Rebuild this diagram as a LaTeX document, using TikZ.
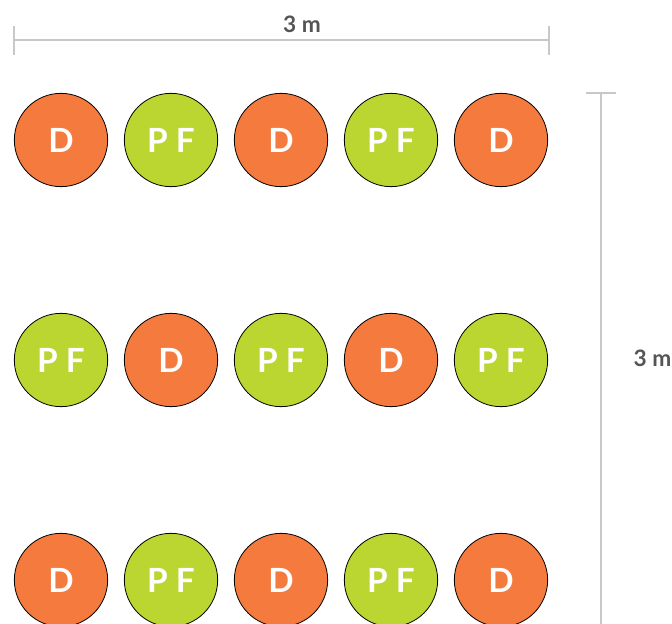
\documentclass[tikz,border=0pt]{standalone}
\usepackage{fontspec}
\setmainfont{Lato}
\definecolor{plantD}{HTML}{F47A3E}
\definecolor{plantPF}{HTML}{BCD631}
\definecolor{dimgray}{HTML}{C8C8C8}
\definecolor{labelgray}{HTML}{555555}

\begin{document}
\begin{tikzpicture}[x=0.75pt,y=-0.75pt,
        plant/.style={circle,draw=black,line width=0.6pt,minimum size=70pt,inner sep=0pt,
            text=white,font=\fontsize{25}{25}\selectfont\bfseries},
        dimline/.style={draw=dimgray,line width=0.9pt},
        dimlabel/.style={text=labelgray,font=\fontsize{17}{17}\selectfont\bfseries}]
        \useasboundingbox (0,0) rectangle (672,624);
        \foreach \r in {0,1,2} {
            \foreach \c in {0,...,4} {
                \pgfmathtruncatemacro\kind{mod(\r+\c,2)}
                \ifnum\kind=0
                    \node[plant,fill=plantD] (p-\r-\c) at (61+110*\c,140+220*\r) {D};
                \else
                    \node[plant,fill=plantPF] (p-\r-\c) at (61+110*\c,140+220*\r) {P F};
                \fi
            }
        }
        % width
        \coordinate (w-l) at (14,40);
        \coordinate (w-r) at (549,40);
        \draw[dimline] (w-l) -- (w-r);
        \draw[dimline] (w-l) ++(0,-14) -- ++(0,29);
        \draw[dimline] (w-r) ++(0,-14) -- ++(0,29);
        \node[dimlabel] (w-lab) at (302,24) {3 m};
        % height
        \coordinate (h-t) at (601,93);
        \coordinate (h-b) at (601,630);
        \draw[dimline] (h-t) -- (h-b);
        \draw[dimline] (h-t) ++(-15,0) -- ++(30,0);
        \node[dimlabel,anchor=west] (h-lab) at (629,358) {3 m};
    \end{tikzpicture}
\end{document}
